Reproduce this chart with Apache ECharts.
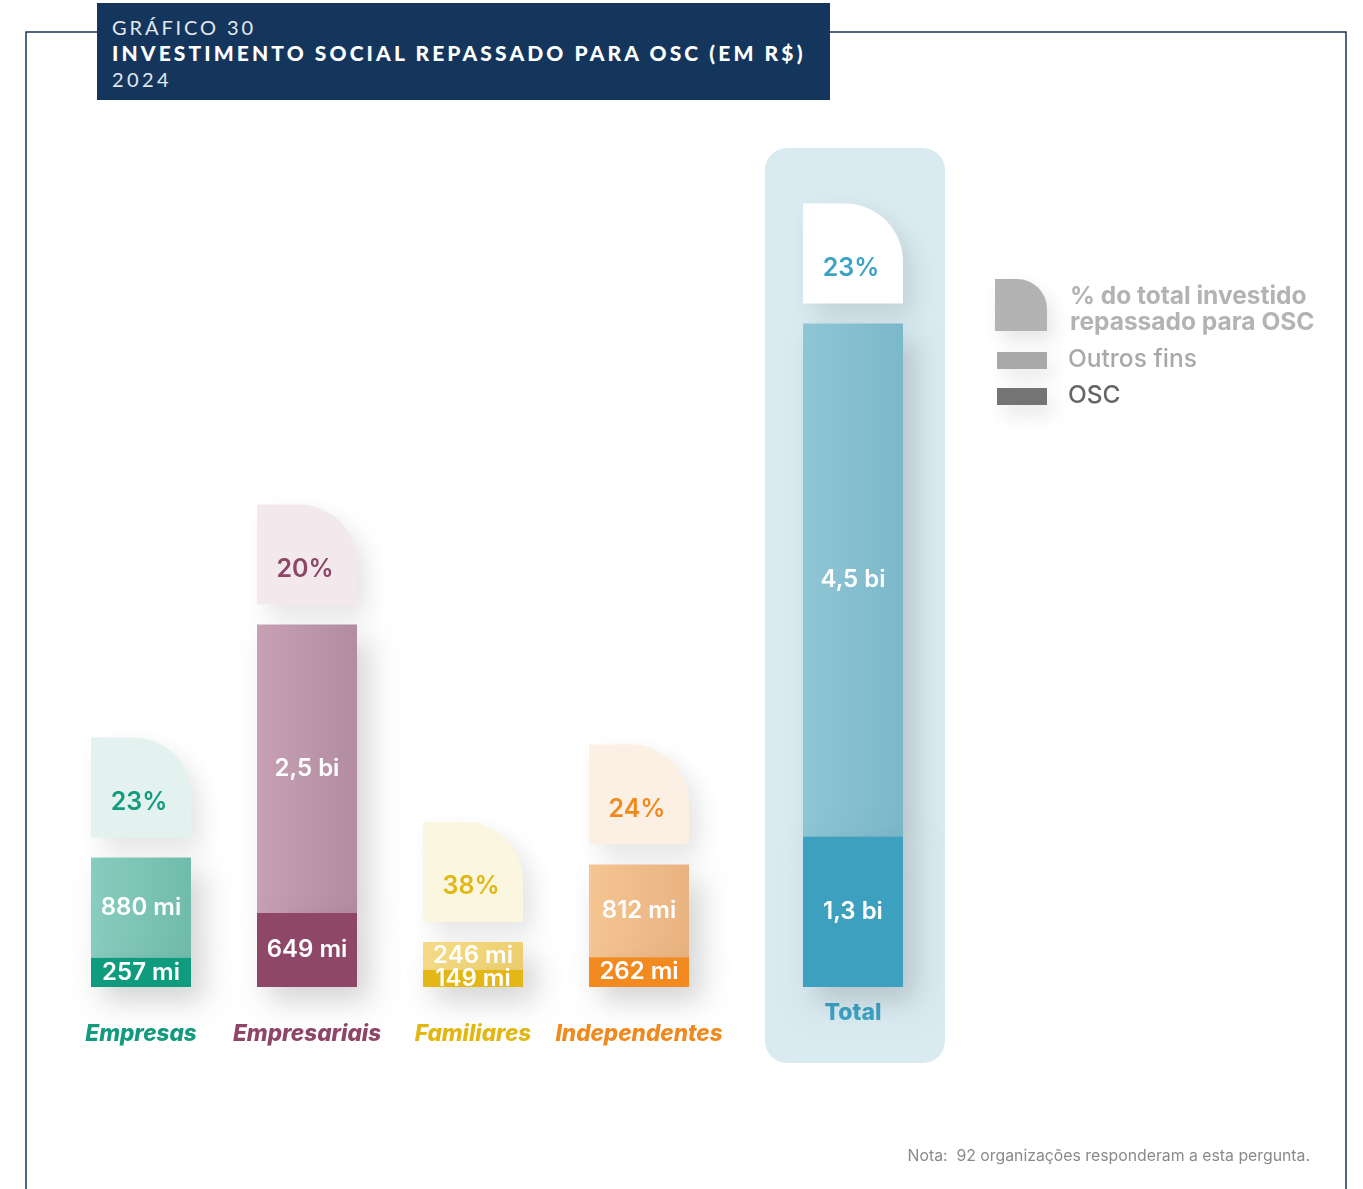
<!DOCTYPE html>
<html>
<head>
<meta charset="utf-8">
<script src="https://cdn.jsdelivr.net/npm/echarts@6/dist/echarts.min.js"></script>
<style>
  html, body { margin: 0; padding: 0; background: #fff; }
  #main { position: absolute; left: 0; top: 0; width: 1363px; height: 1189px; }
  #titulo {
    position: absolute; left: 97px; top: 3px; width: 733px; height: 97px;
    background: #15365c; box-sizing: border-box; padding: 11px 0 0 15px;
    font-family: Lato, "Noto Sans", sans-serif; line-height: 26px; z-index: 5;
  }
  #titulo .l1 { font-size: 20px; font-weight: 400; letter-spacing: 2.9px; color: #e3e8ee; }
  #titulo .l2 { font-size: 21px; font-weight: 900; letter-spacing: 3.1px; color: #ffffff; }
  #titulo .l3 { font-size: 20px; font-weight: 400; letter-spacing: 3.4px; color: #e3e8ee; }
</style>
</head>
<body>
<div id="main"></div>
<div id="titulo">
  <div class="l1">GRÁFICO 30</div>
  <div class="l2">INVESTIMENTO SOCIAL REPASSADO PARA OSC (EM R$)</div>
  <div class="l3">2024</div>
</div>
<script>
// dados (em milhões de R$)
var categorias = ['Empresas', 'Empresariais', 'Familiares', 'Independentes'];
var osc = [257, 649, 149, 262];
var outrosFins = [880, 2530, 246, 812];
var oscRotulos = ['257 mi', '649 mi', '149 mi', '262 mi'];
var outrosRotulos = ['880 mi', '2,5 bi', '246 mi', '812 mi'];
var percentuais = ['23%', '20%', '38%', '24%'];

var totalCategoria = ['Total'];
var totalOsc = [1320];
var totalOutros = [4500];
var totalOscRotulos = ['1,3 bi'];
var totalOutrosRotulos = ['4,5 bi'];
var totalPercentuais = ['23%'];

// cores
var corOsc = ['#0f9b7d', '#8f4768', '#e3b816', '#f28a1f'];
var corOutros = [['#88cdbf', '#70bbaa'], ['#c7a1b3', '#b28c9f'], ['#f4db86', '#eed070'], ['#f5c592', '#e9b380']];
var corFolha = ['#e3f2ef', '#f3e9ed', '#fbf6e0', '#fcf0e5'];
var corTexto = ['#149a7e', '#8e4667', '#e2b714', '#f08a1e'];
var corTotalOsc = ['#3ea0bf'];
var corTotalOutros = [['#8fc6d5', '#7bb8ca']];
var corTotalFolha = ['#ffffff'];
var corTotalTexto = ['#3da3c4'];

var sombraBarra = { shadowBlur: 28, shadowOffsetX: 12, shadowOffsetY: 14, shadowColor: 'rgba(0,0,0,0.17)' };

function gradiente(c) {
  return new echarts.graphic.LinearGradient(0, 0, 1, 0, [
    { offset: 0, color: c[0] }, { offset: 1, color: c[1] }
  ]);
}

function itensOsc(vals, cores) {
  return vals.map(function (v, i) {
    return { value: v, itemStyle: Object.assign({ color: cores[i] }, sombraBarra) };
  });
}
function itensOutros(vals, cores) {
  return vals.map(function (v, i) {
    return { value: v, itemStyle: Object.assign({ color: gradiente(cores[i]) }, sombraBarra) };
  });
}

function rotulo(textos) {
  return {
    show: true, position: 'inside', color: '#fff',
    fontFamily: 'Inter', fontSize: 24, fontWeight: 600,
    formatter: function (p) { return textos[p.dataIndex]; }
  };
}

// "folha" com o percentual acima de cada barra
function folha(textos, fundos, cores) {
  return function (params, api) {
    var p = api.coord([api.value(0), api.value(1)]);
    var i = params.dataIndex;
    var w = 100, h = 100, gap = 20;
    return {
      type: 'group',
      children: [{
        type: 'rect',
        shape: { x: p[0] - w / 2, y: p[1] - gap - h, width: w, height: h, r: [0, 58, 0, 0] },
        style: { fill: fundos[i], shadowBlur: 24, shadowOffsetX: 10, shadowOffsetY: 12, shadowColor: 'rgba(0,0,0,0.11)' }
      }, {
        type: 'text',
        style: {
          text: textos[i], x: p[0] - 2, y: p[1] - gap - h + 65,
          align: 'center', verticalAlign: 'middle', fill: cores[i],
          font: '600 25px Inter'
        }
      }]
    };
  };
}

var chart = echarts.init(document.getElementById('main'));

var option = {
  backgroundColor: '#ffffff',
  animation: false,
  grid: [
    { left: 58, width: 664, top: 132, bottom: 202 },
    { left: 763, width: 180, top: 132, bottom: 202 }
  ],
  xAxis: [{
    type: 'category', gridIndex: 0, data: categorias,
    axisLine: { show: false }, axisTick: { show: false },
    axisLabel: {
      interval: 0, margin: 36, fontFamily: 'Inter', fontSize: 22.5, fontWeight: 800, fontStyle: 'italic',
      color: function (v, i) { return corTexto[categorias.indexOf(v)]; }
    }
  }, {
    type: 'category', gridIndex: 1, data: totalCategoria,
    axisLine: { show: false }, axisTick: { show: false },
    axisLabel: { interval: 0, margin: 15, fontFamily: 'Inter', fontSize: 23, fontWeight: 800, color: corTotalTexto[0] }
  }],
  yAxis: [
    { type: 'value', gridIndex: 0, min: 0, max: 7500, show: false, splitLine: { show: false } },
    { type: 'value', gridIndex: 1, min: 0, max: 7500, show: false, splitLine: { show: false } }
  ],
  series: [{
    name: 'OSC', type: 'bar', stack: 'g', xAxisIndex: 0, yAxisIndex: 0, barWidth: 100, z: 4,
    data: itensOsc(osc, corOsc), label: rotulo(oscRotulos)
  }, {
    name: 'Outros fins', type: 'bar', stack: 'g', xAxisIndex: 0, yAxisIndex: 0, barWidth: 100, z: 3,
    data: itensOutros(outrosFins, corOutros), label: rotulo(outrosRotulos)
  }, {
    name: '% do total', type: 'custom', xAxisIndex: 0, yAxisIndex: 0, z: 3, clip: false,
    renderItem: folha(percentuais, corFolha, corTexto),
    data: categorias.map(function (c, i) { return [i, osc[i] + outrosFins[i]]; })
  }, {
    name: 'OSC', type: 'bar', stack: 't', xAxisIndex: 1, yAxisIndex: 1, barWidth: 100, z: 4,
    data: itensOsc(totalOsc, corTotalOsc), label: rotulo(totalOscRotulos)
  }, {
    name: 'Outros fins', type: 'bar', stack: 't', xAxisIndex: 1, yAxisIndex: 1, barWidth: 100, z: 3,
    data: itensOutros(totalOutros, corTotalOutros), label: rotulo(totalOutrosRotulos)
  }, {
    name: '% do total', type: 'custom', xAxisIndex: 1, yAxisIndex: 1, z: 3, clip: false,
    renderItem: folha(totalPercentuais, corTotalFolha, corTotalTexto),
    data: [[0, totalOsc[0] + totalOutros[0]]]
  }],
  graphic: [
    // moldura
    { type: 'polyline', z: -20, shape: { points: [[26, 1189], [26, 32], [1346, 32], [1346, 1189]] },
      style: { stroke: '#15365c', lineWidth: 1.5, fill: null } },
    // painel do total
    { type: 'rect', z: -10, shape: { x: 765, y: 148, width: 180, height: 915, r: 22 },
      style: { fill: '#d9ebf1' } },
    // legenda
    { type: 'rect', shape: { x: 995, y: 279, width: 52, height: 52, r: [0, 30, 0, 0] },
      style: { fill: '#b3b3b3', shadowBlur: 20, shadowOffsetX: 6, shadowOffsetY: 10, shadowColor: 'rgba(0,0,0,0.1)' } },
    { type: 'rect', shape: { x: 997, y: 352, width: 50, height: 17 },
      style: { fill: '#a8a8a8', shadowBlur: 20, shadowOffsetX: 6, shadowOffsetY: 10, shadowColor: 'rgba(0,0,0,0.1)' } },
    { type: 'rect', shape: { x: 997, y: 388, width: 50, height: 17 },
      style: { fill: '#747474', shadowBlur: 20, shadowOffsetX: 6, shadowOffsetY: 10, shadowColor: 'rgba(0,0,0,0.1)' } },
    { type: 'text', style: { text: '% do total investido', x: 1070, y: 297, verticalAlign: 'middle', fill: '#b3b3b3', font: '700 24.5px Inter' } },
    { type: 'text', style: { text: 'repassado para OSC', x: 1070, y: 323, verticalAlign: 'middle', fill: '#b3b3b3', font: '700 24.5px Inter' } },
    { type: 'text', style: { text: 'Outros fins', x: 1068, y: 360, verticalAlign: 'middle', fill: '#a8a8a8', font: '500 24.5px Inter' } },
    { type: 'text', style: { text: 'OSC', x: 1068, y: 396, verticalAlign: 'middle', fill: '#666666', font: '500 24.5px Inter' } },
    // nota
    { type: 'text', style: { text: 'Nota:  92 organizações responderam a esta pergunta.', x: 1310, y: 1156,
      align: 'right', verticalAlign: 'middle', fill: '#8a8a8a', font: '400 15.8px Inter' } }
  ]
};

chart.setOption(option);
</script>
</body>
</html>
